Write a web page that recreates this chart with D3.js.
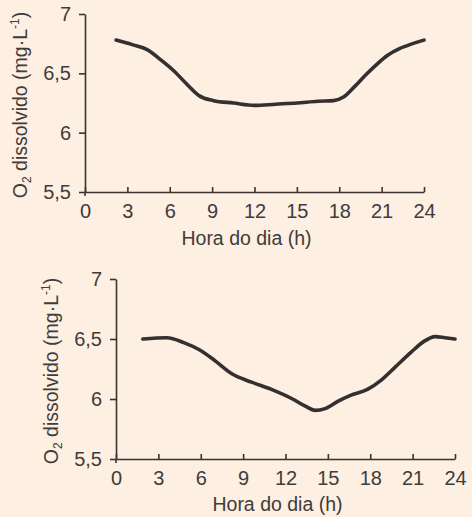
<!doctype html>
<html lang="pt">
<head>
<meta charset="utf-8">
<script src="https://cdn.jsdelivr.net/npm/d3@7"></script>
<style>
    body { margin: 0; background: #fdefe2; }
    svg { display: block; font-family: "Liberation Sans", Arial, sans-serif; }
    .axis text { font-size: 20px; fill: #403c3a; }
    .axis line, .axis path { stroke: #3a3330; stroke-width: 1.6px; }
    .lbl { font-size: 19.5px; fill: #403c3a; }
    .curve { fill: none; stroke: #333030; stroke-width: 3.6px; stroke-linecap: round; }
</style>
</head>
<body>
<svg width="472" height="517"></svg>
<script>
    // hours and dissolved O2
    var hours1 = [2.2, 3.4, 4.4, 5.3, 6.3, 7.2, 8.1, 9.1, 10.5, 12.0, 13.5, 15.0, 16.5, 17.6, 18.3, 19.1, 19.9, 20.7, 21.4, 22.3, 23.2, 24];
    var o2Top  = [6.78, 6.74, 6.70, 6.62, 6.52, 6.41, 6.31, 6.27, 6.25, 6.23, 6.24, 6.25, 6.265, 6.27, 6.30, 6.39, 6.49, 6.58, 6.65, 6.71, 6.75, 6.78];

    var hours2 = [1.9, 3.6, 4.8, 5.9, 7.0, 8.2, 9.6, 11.0, 12.5, 13.4, 14.1, 14.8, 15.7, 16.6, 17.8, 18.8, 19.8, 20.9, 21.8, 22.6, 23.3, 24];
    var o2Bot  = [6.50, 6.51, 6.47, 6.41, 6.32, 6.21, 6.14, 6.08, 6.00, 5.94, 5.905, 5.92, 5.98, 6.03, 6.08, 6.16, 6.27, 6.39, 6.48, 6.52, 6.51, 6.50];

    var xTicks = [0, 3, 6, 9, 12, 15, 18, 21, 24];
    var yTicks = [5.5, 6, 6.5, 7];

    var svg = d3.select("svg");

    function drawChart(left, top, width, height, hours, vals, yLabelX, xLabelY) {
        var g = svg.append("g")
            .attr("transform", "translate(" + left + "," + top + ")");

        var x = d3.scaleLinear().domain([0, 24]).range([0, width]);
        var y = d3.scaleLinear().domain([5.5, 7]).range([height, 0]);

        var fmt = function(d) { return String(d).replace(".", ","); };

        g.append("g")
            .attr("class", "axis")
            .attr("transform", "translate(0," + height + ")")
            .call(d3.axisBottom(x).tickValues(xTicks).tickSizeInner(-5).tickSizeOuter(0).tickPadding(12))
            .call(function(a) { a.selectAll("text").attr("dy", "0.71em"); });

        g.append("g")
            .attr("class", "axis")
            .call(d3.axisLeft(y).tickValues(yTicks).tickFormat(fmt).tickSize(6).tickSizeOuter(0).tickPadding(8));

        // y axis line runs a bit under the x axis
        g.append("line")
            .attr("x1", 0).attr("x2", 0)
            .attr("y1", height).attr("y2", height + 4)
            .attr("stroke", "#3a3330").attr("stroke-width", 1.6);

        var line = d3.line()
            .curve(d3.curveMonotoneX)
            .x(function(d, i) { return x(hours[i]); })
            .y(function(d) { return y(d); });

        g.append("path")
            .attr("class", "curve")
            .attr("d", line(vals));

        g.append("text")
            .attr("class", "lbl")
            .attr("x", width / 2 - 8)
            .attr("y", height + xLabelY)
            .attr("text-anchor", "middle")
            .text("Hora do dia (h)");

        var yl = g.append("text")
            .attr("class", "lbl")
            .attr("transform", "translate(" + yLabelX + "," + (height / 2 + 2) + ") rotate(-90)")
            .attr("text-anchor", "middle");
        yl.append("tspan").text("O");
        yl.append("tspan").attr("dy", 4).style("font-size", "12px").text("2");
        yl.append("tspan").attr("dy", -4).text(" dissolvido (mg·L");
        yl.append("tspan").attr("dy", -8).style("font-size", "12px").text("-1");
        yl.append("tspan").attr("dy", 8).text(")");
    }

    drawChart(85, 14, 339, 178, hours1, o2Top, -58, 53);
    drawChart(116, 279, 339, 180, hours2, o2Bot, -58, 52);
</script>
</body>
</html>
